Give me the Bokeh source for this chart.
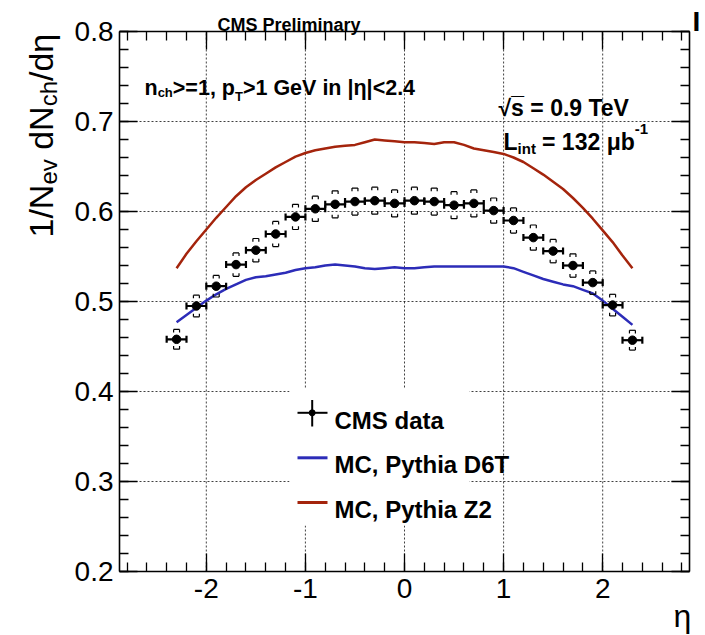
import math
import numpy as np
from bokeh.plotting import figure
from bokeh.models import Range1d, FixedTicker, LinearAxis, Label, ColumnDataSource
from bokeh.embed import file_html
from bokeh.resources import INLINE

# ---------------- data ----------------
eta_data = [-2.3, -2.1, -1.9, -1.7, -1.5, -1.3, -1.1, -0.9, -0.7, -0.5, -0.3, -0.1,
            0.1, 0.3, 0.5, 0.7, 0.9, 1.1, 1.3, 1.5, 1.7, 1.9, 2.1, 2.3]
dndeta_data = [0.458, 0.495, 0.517, 0.541, 0.557, 0.575, 0.594, 0.603, 0.608, 0.611, 0.612, 0.609,
               0.612, 0.611, 0.607, 0.609, 0.601, 0.590, 0.571, 0.556, 0.540, 0.521, 0.496, 0.457]
sys_err = [0.011, 0.012, 0.012, 0.013, 0.013, 0.014, 0.014, 0.014, 0.015, 0.015, 0.015, 0.015,
           0.015, 0.015, 0.015, 0.015, 0.014, 0.014, 0.014, 0.013, 0.013, 0.013, 0.012, 0.011]
eta_bin_half = 0.1

eta_mc = [-2.3, -2.2, -2.1, -2.0, -1.9, -1.8, -1.7, -1.6, -1.5, -1.4, -1.3, -1.2, -1.1, -1.0,
          -0.9, -0.8, -0.7, -0.6, -0.5, -0.4, -0.3, -0.2, -0.1, 0.0, 0.1, 0.2, 0.3, 0.4, 0.5,
          0.6, 0.7, 0.8, 0.9, 1.0, 1.1, 1.2, 1.3, 1.4, 1.5, 1.6, 1.7, 1.8, 1.9, 2.0, 2.1, 2.2, 2.3]
mc_d6t = [0.477, 0.485, 0.493, 0.501, 0.508, 0.514, 0.519, 0.524, 0.527, 0.528, 0.530, 0.532,
          0.535, 0.537, 0.538, 0.540, 0.541, 0.540, 0.539, 0.537, 0.536, 0.537, 0.538, 0.537,
          0.537, 0.538, 0.539, 0.539, 0.539, 0.539, 0.539, 0.539, 0.539, 0.539, 0.537, 0.533,
          0.529, 0.525, 0.522, 0.519, 0.517, 0.513, 0.509, 0.501, 0.492, 0.483, 0.474]
mc_z2 = [0.537, 0.553, 0.567, 0.580, 0.593, 0.605, 0.617, 0.627, 0.635, 0.642, 0.649, 0.655,
         0.661, 0.665, 0.668, 0.670, 0.672, 0.673, 0.674, 0.677, 0.680, 0.679, 0.678, 0.677,
         0.677, 0.676, 0.675, 0.677, 0.677, 0.674, 0.670, 0.668, 0.666, 0.664, 0.660, 0.655,
         0.648, 0.641, 0.633, 0.625, 0.615, 0.604, 0.592, 0.579, 0.566, 0.551, 0.537]

x_ticks = [-2, -1, 0, 1, 2]
x_tick_labels = ["-2", "-1", "0", "1", "2"]
y_ticks = [0.2, 0.3, 0.4, 0.5, 0.6, 0.7, 0.8]
y_tick_labels = ["0.2", "0.3", "0.4", "0.5", "0.6", "0.7", "0.8"]

legend_labels = ["CMS data", "MC, Pythia D6T", "MC, Pythia Z2"]

# ---------------- layout ----------------
W, H = 705, 635
FL, FR, FT, FB = 119, 689, 31, 571          # pixel box of the axes
XMIN, XMAX = -2.876, 2.876
YMIN, YMAX = 0.2, 0.8
PXU = (FR - FL) / (XMAX - XMIN)
PYU = (FB - FT) / (YMAX - YMIN)
BLUE = "#2c2cb8"
RED = "#a4240c"
FONT = "Liberation Sans"


def X(px):
    return XMIN + (px - FL) / PXU


def Y(py):
    return YMAX - (py - FT) / PYU


REG = {'1': 556, '/': 278, 'N': 722, 'e': 556, 'v': 500, ' ': 278, 'd': 556, 'c': 500,
       'h': 556, 'η': 556}
BOLD = {'n': 611, 'c': 556, 'h': 611, '>': 584, '=': 584, '1': 556, ',': 278, ' ': 278,
        'p': 611, 'T': 611, 'G': 778, 'e': 556, 'V': 667, 'i': 278, '|': 280, 'η': 611,
        '<': 584, '2': 556, '.': 278, '4': 556, 'L': 611, 't': 333, '3': 556, 'μ': 611,
        'b': 611, '-': 333}


def tw(s, fs, table):
    return sum(table.get(ch, 556) for ch in s) * fs / 1000.0


# the frame covers the whole canvas; the axes sit at fixed locations
p = figure(width=W, height=H, x_range=Range1d(X(0), X(W)), y_range=Range1d(Y(H), Y(0)),
           output_backend="svg", toolbar_location=None, min_border=0)
p.outline_line_color = None
p.background_fill_color = "white"
p.border_fill_color = "white"
p.xgrid.visible = False
p.ygrid.visible = False

x_minor = [round(v, 2) for v in np.arange(-2.8, 2.81, 0.2)]
y_minor = [round(v, 3) for v in np.arange(0.2, 0.801, 0.02)]


def style_axis(ax, ticks, minor, labels, overrides, standoff, loc, bounds):
    ax.fixed_location = loc
    ax.bounds = bounds
    ax.ticker = FixedTicker(ticks=ticks, minor_ticks=minor)
    ax.axis_line_width = 1.6
    ax.axis_line_color = "black"
    ax.major_tick_in = 18
    ax.major_tick_out = 0
    ax.minor_tick_in = 9
    ax.minor_tick_out = 0
    ax.major_tick_line_width = 1.3
    ax.minor_tick_line_width = 1.3
    ax.major_tick_line_color = "black"
    ax.minor_tick_line_color = "black"
    ax.major_label_text_font = FONT
    ax.major_label_text_color = "black"
    ax.major_label_standoff = standoff
    if labels:
        ax.major_label_text_font_size = "28px"
        ax.major_label_overrides = overrides
    else:
        ax.major_label_text_font_size = "0px"
        ax.major_label_text_alpha = 0


xo = {t: l for t, l in zip(x_ticks, x_tick_labels)}
yo = {t: l for t, l in zip(y_ticks, y_tick_labels)}
style_axis(p.xaxis[0], x_ticks, x_minor, True, xo, 7, YMIN, (XMIN, XMAX))
style_axis(p.yaxis[0], y_ticks, y_minor, True, yo, 6, XMIN, (YMIN, YMAX))
top_ax = LinearAxis()
right_ax = LinearAxis()
style_axis(top_ax, x_ticks, x_minor, False, {}, 0, YMAX, (XMIN, XMAX))
style_axis(right_ax, y_ticks, y_minor, False, {}, 0, XMAX, (YMIN, YMAX))
p.add_layout(top_ax, "above")
p.add_layout(right_ax, "right")

# dotted grid at the major ticks, limited to the axes box
p.segment(x0=x_ticks, y0=[YMIN] * len(x_ticks), x1=x_ticks, y1=[YMAX] * len(x_ticks),
          line_color="black", line_alpha=0.75, line_width=1, line_dash="2 2")
p.segment(x0=[XMIN] * len(y_ticks), y0=y_ticks, x1=[XMAX] * len(y_ticks), y1=y_ticks,
          line_color="black", line_alpha=0.75, line_width=1, line_dash="2 2")

# ---------------- MC curves ----------------
p.line(eta_mc, mc_d6t, line_color=BLUE, line_width=2.5)
p.line(eta_mc, mc_z2, line_color=RED, line_width=2.5)

# ---------------- data points ----------------
ex = np.array(eta_data)
ey = np.array(dndeta_data)
es = np.array(sys_err)
bw = 0.03
leg = 0.0035
src = ColumnDataSource(dict(
    x=ex, y=ey, lo=ex - eta_bin_half, hi=ex + eta_bin_half,
    top=ey + es, bot=ey - es, bl=ex - bw, br=ex + bw,
    top_leg=ey + es - leg, bot_leg=ey - es + leg))

# systematic brackets
for a, b, c, d in (("bl", "top", "br", "top"), ("bl", "top", "bl", "top_leg"),
                   ("br", "top", "br", "top_leg"), ("bl", "bot", "br", "bot"),
                   ("bl", "bot", "bl", "bot_leg"), ("br", "bot", "br", "bot_leg")):
    p.segment(x0=a, y0=b, x1=c, y1=d, source=src, line_color="black", line_width=1.2)

# horizontal bin-width bars with end caps
p.segment(x0="lo", y0="y", x1="hi", y1="y", source=src, line_color="black", line_width=2.2)
p.scatter(x="lo", y="y", source=src, marker="dash", angle=math.pi / 2, size=7,
          line_color="black", line_width=2.2)
p.scatter(x="hi", y="y", source=src, marker="dash", angle=math.pi / 2, size=7,
          line_color="black", line_width=2.2)
p.scatter(x="x", y="y", source=src, marker="circle", size=8.5,
          fill_color="black", line_color="black")

# ---------------- legend (drawn by hand, ROOT style) ----------------
p.quad(left=[X(289)], right=[X(469)], top=[Y(388)], bottom=[Y(525)],
       fill_color="white", line_color=None)
p.segment(x0=[X(297)], y0=[Y(412.3)], x1=[X(327)], y1=[Y(412.3)], line_color="black", line_width=2)
p.segment(x0=[X(311.7)], y0=[Y(399.5)], x1=[X(311.7)], y1=[Y(426)], line_color="black", line_width=2)
p.scatter(x=[X(311.7)], y=[Y(412.3)], size=6, fill_color="black", line_color="black")
p.segment(x0=[X(297)], y0=[Y(457.3)], x1=[X(327)], y1=[Y(457.3)], line_color=BLUE, line_width=3)
p.segment(x0=[X(297)], y0=[Y(502)], x1=[X(327)], y1=[Y(502)], line_color=RED, line_width=3)
for txt, py in zip(legend_labels, (420, 463.5, 508.5)):
    p.add_layout(Label(x=X(334), y=Y(py), text=txt, text_font=FONT, text_font_size="24px",
                       text_font_style="bold", text_color="black", text_baseline="alphabetic"))


def lab(px, py, text, fs, style="bold", align="left", angle=0.0):
    p.add_layout(Label(x=X(px), y=Y(py), text=text, text_font=FONT,
                       text_font_size=f"{fs}px", text_font_style=style, text_color="black",
                       text_align=align, text_baseline="alphabetic", angle=angle))


# title
lab(288.5, 24, "CMS Preliminary", 18, align="center")

# selection text: n_ch>=1, p_T>1 GeV in |eta|<2.4
fs, sfs = 21.5, 13
x0 = 144
lab(x0, 87, "n", fs); x0 += tw("n", fs, BOLD)
lab(x0, 92, "ch", sfs); x0 += tw("ch", sfs, BOLD)
lab(x0, 87, ">=1, p", fs); x0 += tw(">=1, p", fs, BOLD)
lab(x0, 96, "T", sfs); x0 += tw("T", sfs, BOLD)
lab(x0, 87, ">1 GeV in |η|<2.4", fs)

# sqrt(s) and luminosity
lab(498, 107, "√s\u0305 = 0.9 TeV", 23)
fs, sfs = 23, 15
x0 = 503
lab(x0, 141, "L", fs); x0 += tw("L", fs, BOLD)
lab(x0, 148, "int", sfs); x0 += tw("int ", sfs, BOLD) + 2
lab(x0, 141, "= 132 μb", fs); x0 += tw("= 132 μb", fs, BOLD)
lab(x0, 128, "-1", sfs)

# y-axis title (rotated, built from pieces for the subscripts)
fs, sfs = 34, 24
py = 237
A = math.pi / 2
lab(40, py, "1/N", fs, style="normal", angle=A); py -= tw("1/N", fs, REG)
lab(48, py, "ev", sfs, style="normal", angle=A); py -= tw("ev", sfs, REG) + tw(" ", fs, REG)
lab(40, py, "dN", fs, style="normal", angle=A); py -= tw("dN", fs, REG)
lab(48, py, "ch", sfs, style="normal", angle=A); py -= tw("ch", sfs, REG)
lab(40, py, "/dη", fs, style="normal", angle=A)

# x-axis title at the lower right corner
lab(673, 615, "η", 32, style="normal")
# remnant of a neighbouring text at the top-right corner
lab(692, 21, "I", 28)

open("out.html", "w").write(file_html(p, INLINE))
